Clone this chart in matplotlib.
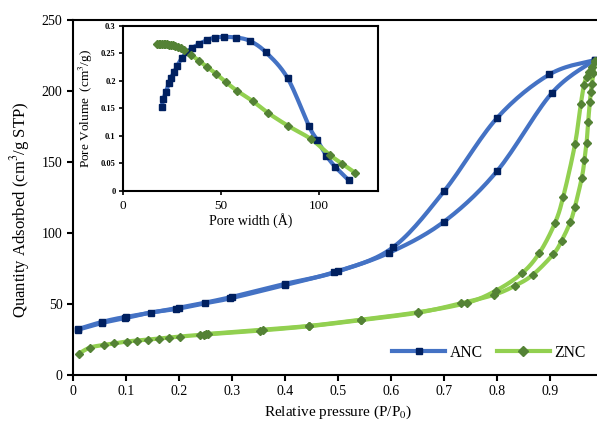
import numpy as np
import matplotlib
matplotlib.use("Agg")
import matplotlib.pyplot as plt
from matplotlib.lines import Line2D

plt.rcParams['font.family'] = ['Liberation Serif', 'DejaVu Serif']
plt.rcParams['mathtext.fontset'] = 'stix'

# ANC isotherm (adsorption / desorption branches)
anc_ads_p = [0.01, 0.054, 0.098, 0.147, 0.195, 0.249, 0.297, 0.40, 0.493, 0.596, 0.70, 0.80, 0.903, 0.984]
anc_ads_q = [32.0, 36.6, 40.0, 44.0, 46.5, 50.5, 54.0, 63.4, 72.4, 86.0, 108.0, 143.6, 198.4, 221.8]
anc_des_p = [0.984, 0.899, 0.80, 0.70, 0.604, 0.50, 0.40, 0.30, 0.20, 0.10, 0.055, 0.01]
anc_des_q = [221.8, 211.7, 181.0, 129.4, 90.0, 73.0, 64.2, 55.0, 47.4, 41.0, 37.4, 32.4]

# ZNC isotherm
znc_ads_p = [0.011, 0.032, 0.058, 0.077, 0.101, 0.121, 0.142, 0.163, 0.182, 0.202, 0.239, 0.247,
             0.255, 0.352, 0.446, 0.544, 0.651, 0.732, 0.795, 0.833, 0.867, 0.906, 0.922, 0.938,
             0.947, 0.960, 0.965, 0.969, 0.972, 0.975, 0.977, 0.979, 0.982, 0.985]
znc_ads_q = [15.1, 19.3, 21.2, 22.2, 23.6, 24.3, 25.0, 25.7, 26.4, 27.1, 28.3, 28.5,
             28.7, 31.3, 34.4, 38.7, 43.9, 50.5, 56.6, 62.7, 70.4, 85.0, 94.6, 107.5,
             118.5, 139.0, 151.4, 163.6, 178.4, 192.0, 199.0, 205.0, 213.0, 221.0]
znc_des_p = [0.985, 0.979, 0.974, 0.969, 0.964, 0.958, 0.947, 0.925, 0.909, 0.880, 0.847,
             0.798, 0.743, 0.651, 0.544, 0.446, 0.359, 0.250]
znc_des_q = [221.0, 217.0, 213.5, 210.0, 204.0, 190.6, 162.4, 125.6, 106.8, 86.0, 71.6,
             59.4, 50.8, 44.2, 39.0, 34.6, 32.0, 28.8]

# pore size distribution (inset)
anc_w = [19.8, 20.7, 22.0, 23.6, 24.6, 26.3, 27.8, 30.0, 32.5, 35.4, 38.8, 42.7, 46.9,
         51.5, 57.6, 64.6, 72.9, 83.9, 94.7, 99.0, 103.6, 108.0, 115.0]
anc_v = [0.153, 0.167, 0.180, 0.197, 0.206, 0.217, 0.228, 0.241, 0.252, 0.260, 0.267, 0.274, 0.279,
         0.280, 0.279, 0.273, 0.252, 0.205, 0.118, 0.092, 0.064, 0.044, 0.019]
znc_w = [17.6, 18.4, 19.2, 20.0, 20.8, 21.6, 22.5, 23.4, 24.4, 25.5, 26.7, 28.0, 29.5, 31.2,
         35.0, 38.7, 42.7, 47.5, 52.4, 58.2, 66.2, 73.8, 84.2, 95.8, 105.4, 111.7, 118.1]
znc_v = [0.267, 0.267, 0.267, 0.267, 0.267, 0.267, 0.267, 0.266, 0.266, 0.265, 0.264, 0.262, 0.260, 0.257,
         0.247, 0.237, 0.226, 0.213, 0.198, 0.182, 0.163, 0.142, 0.118, 0.094, 0.065, 0.049, 0.033]

blue, navy = '#4472C4', '#002060'
green, dgreen = '#92D050', '#548235'


def smooth(x, y, xr, yr, n=16):
    # catmull-rom through the points, like excel's smoothed line
    p = np.column_stack([np.asarray(x) / xr, np.asarray(y) / yr])
    p = np.vstack([p[0], p, p[-1]])
    out = []
    for i in range(1, len(p) - 2):
        p0, p1, p2, p3 = p[i - 1], p[i], p[i + 1], p[i + 2]
        t = np.linspace(0, 1, n, endpoint=False)[:, None]
        c = 0.5 * ((2 * p1) + (-p0 + p2) * t + (2 * p0 - 5 * p1 + 4 * p2 - p3) * t ** 2
                   + (-p0 + 3 * p1 - 3 * p2 + p3) * t ** 3)
        out.append(c)
    out.append(p[-2][None, :])
    out = np.vstack(out)
    return out[:, 0] * xr, out[:, 1] * yr


fig = plt.figure(figsize=(5.97, 4.25), dpi=100)
ax = fig.add_axes([0.1223, 0.1176, 0.8878, 0.8353])

for px, qy, lc, mc, mk, ms in [(anc_ads_p, anc_ads_q, blue, navy, 's', 4.3),
                               (anc_des_p, anc_des_q, blue, navy, 's', 4.3),
                               (znc_ads_p, znc_ads_q, green, dgreen, 'D', 4.3),
                               (znc_des_p, znc_des_q, green, dgreen, 'D', 4.3)]:
    sx, sy = smooth(px, qy, 1.0, 250.0)
    ax.plot(sx, sy, color=lc, lw=3, solid_capstyle='round', zorder=2)
    ax.plot(px, qy, ls='none', marker=mk, ms=ms, color=mc, zorder=3)

ax.set_xlim(0, 1.0)
ax.set_ylim(0, 250)
ax.set_xticks(np.arange(0, 1.0, 0.1))
ax.set_xticklabels(['0', '0.1', '0.2', '0.3', '0.4', '0.5', '0.6', '0.7', '0.8', '0.9'])
ax.set_yticks(range(0, 251, 50))
ax.tick_params(direction='out', length=4, width=1.5, labelsize=10)
for s in ax.spines.values():
    s.set_linewidth(1.5)
ax.set_xlabel('Relative pressure (P/P$_0$)', fontsize=11, labelpad=4)
ax.set_ylabel('Quantity Adsorbed (cm$^3$/g STP)', fontsize=12)
ax.yaxis.set_label_coords(-0.077, 0.465)

handles = [Line2D([], [], color=blue, lw=3, marker='s', ms=5, mfc=navy, mec=navy),
           Line2D([], [], color=green, lw=3, marker='D', ms=5, mfc=dgreen, mec=dgreen)]
ax.legend(handles, ['ANC', 'ZNC'], ncol=2, frameon=False, fontsize=11.3,
          loc='center left', bbox_to_anchor=(0.602, 0.063), borderaxespad=0, borderpad=0,
          handlelength=3.4, columnspacing=0.9, handletextpad=0.25)

# inset
ins = fig.add_axes([0.2055, 0.5513, 0.4281, 0.3875])
for wx, vy, lc, mc, mk in [(anc_w, anc_v, blue, navy, 's'), (znc_w, znc_v, green, dgreen, 'D')]:
    sx, sy = smooth(wx, vy, 130.0, 0.3)
    ins.plot(sx, sy, color=lc, lw=3, solid_capstyle='round', zorder=2)
    ins.plot(wx, vy, ls='none', marker=mk, ms=4.3, color=mc, zorder=3)
ins.set_xlim(0, 130)
ins.set_ylim(0, 0.3)
ins.set_xticks([0, 50, 100])
ins.set_yticks([0, 0.05, 0.1, 0.15, 0.2, 0.25, 0.3])
ins.set_yticklabels(['0', '0.05', '0.1', '0.15', '0.2', '0.25', '0.3'], fontweight='bold')
ins.tick_params(axis='y', direction='out', length=3, width=1.2, labelsize=6, pad=2)
ins.tick_params(axis='x', direction='out', length=3, width=1.2, labelsize=9.5)
for s in ins.spines.values():
    s.set_linewidth(1.5)
ins.set_xlabel('Pore width (Å)', fontsize=10, labelpad=1)
ins.set_ylabel('Pore Volume  (cm$^3$/g)', fontsize=9.5, labelpad=4)

fig.savefig('out.png', dpi=100)
